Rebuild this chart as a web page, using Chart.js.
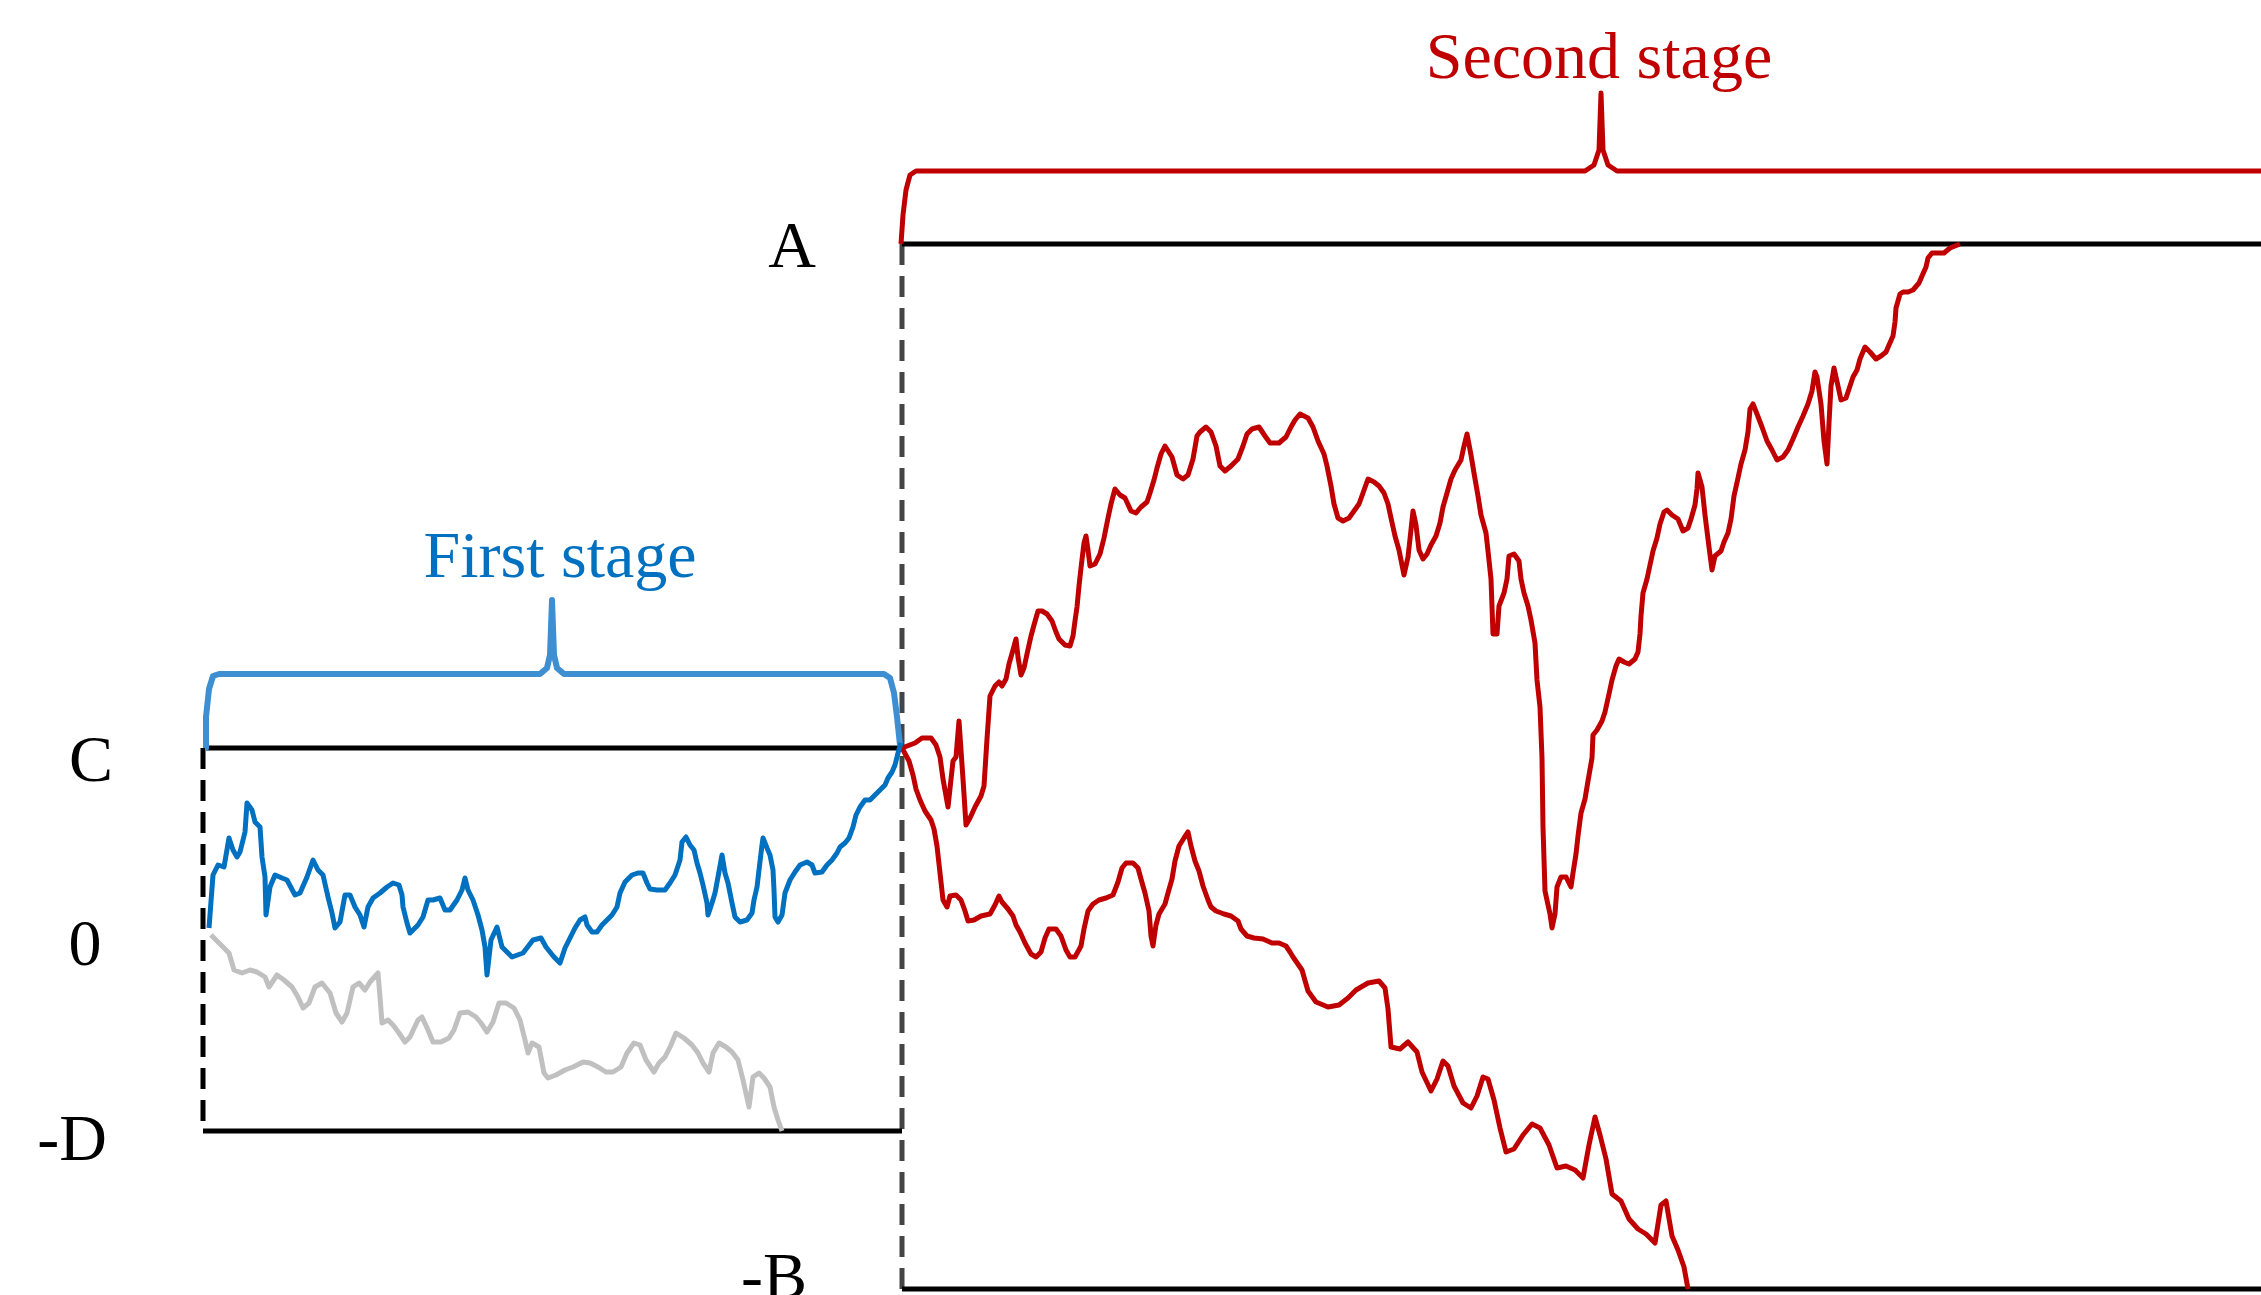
<!DOCTYPE html>
<html lang="en">
<head>
  <meta charset="UTF-8">
  <title>Two stage path</title>
  <script src="https://cdn.jsdelivr.net/npm/chart.js"></script>
  <style>
    html, body {
      margin: 0;
      padding: 0;
      background: #ffffff;
      overflow: hidden;
    }

    .chart-container {
      width: 2261px;
      height: 1295px;
    }
  </style>
</head>
<body>
  <div class="chart-container">
    <canvas id="chart"></canvas>
  </div>

  <script>
    // levels (value above the starting level 0)
    const levelA = 691;
    const levelC = 187;
    const levelZero = 0;
    const levelD = -196;
    const levelB = -354;

    // time marks
    const tStart = 203;
    const tSwitch = 902;
    const tEnd = 2261;

    // first stage, upper path (blue) [t, value]
    const bluePath = [
      [209,7],[213,60],[218,70],[224,68],[229,97],[233,85],[237,78],[240,83],[245,103],[247,132],
      [252,125],[255,113],[260,108],[262,78],[265,58],[266,20],[270,48],[275,60],[282,57],[287,55],
      [295,40],[300,42],[307,58],[313,75],[318,65],[323,60],[328,38],[332,22],[335,7],[340,13],
      [345,40],[350,40],[355,28],[360,20],[364,8],[368,28],[373,37],[380,42],[387,48],[393,52],
      [399,50],[402,40],[403,28],[407,12],[410,2],[413,5],[418,10],[423,18],[428,35],[433,35],
      [440,37],[445,25],[450,25],[457,35],[462,45],[465,57],[468,45],[473,35],[478,20],[482,5],
      [485,-12],[487,-40],[491,-5],[497,8],[502,-12],[512,-22],[523,-18],[533,-5],[541,-3],[546,-12],
      [554,-22],[560,-28],[565,-13],[570,-3],[575,7],[580,15],[585,18],[587,10],[592,3],[597,3],
      [602,10],[607,15],[612,20],[617,28],[620,42],[625,53],[632,60],[638,62],[643,62],[647,52],
      [650,46],[657,45],[665,45],[670,52],[675,60],[680,75],[682,93],[686,98],[690,90],[694,85],
      [697,72],[700,62],[703,50],[707,32],[708,20],[712,32],[715,42],[718,58],[722,80],[725,62],
      [728,52],[732,32],[735,18],[740,13],[747,15],[752,22],[754,35],[757,48],[759,65],[762,90],
      [763,97],[767,87],[770,80],[773,65],[774,45],[775,18],[778,13],[782,20],[785,42],[790,55],
      [795,63],[800,70],[807,73],[812,70],[815,62],[822,63],[827,70],[832,75],[837,82],[840,88],
      [845,92],[849,97],[853,108],[856,120],[860,128],[865,135],[870,135],[875,140],[880,145],[885,150],
      [888,157],[892,163],[895,170],[898,182],[901,192]
    ];

    // first stage, lower path (grey)
    const greyPath = [
      [211,0],[219,-8],[229,-18],[234,-35],[242,-38],[250,-35],[257,-37],[265,-42],[269,-52],[277,-40],
      [284,-45],[292,-52],[298,-62],[303,-73],[309,-68],[315,-52],[322,-48],[330,-58],[336,-78],[342,-87],
      [347,-78],[353,-52],[359,-48],[365,-55],[370,-47],[378,-38],[380,-62],[382,-88],[388,-85],[393,-90],
      [399,-98],[405,-107],[410,-102],[418,-85],[422,-82],[428,-95],[433,-107],[441,-107],[449,-103],[454,-95],
      [460,-78],[468,-77],[476,-82],[481,-88],[487,-97],[493,-87],[499,-68],[506,-68],[514,-73],[520,-85],
      [525,-105],[528,-118],[532,-108],[539,-112],[544,-138],[548,-143],[556,-140],[565,-135],[573,-132],[583,-127],
      [590,-128],[598,-132],[606,-137],[613,-137],[621,-132],[627,-118],[634,-108],[640,-110],[646,-125],[654,-137],
      [659,-128],[665,-122],[671,-110],[676,-98],[684,-103],[692,-110],[698,-118],[703,-128],[709,-137],[713,-118],
      [719,-108],[726,-112],[732,-117],[738,-125],[743,-145],[749,-172],[753,-142],[759,-138],[764,-143],[770,-152],
      [774,-172],[778,-185],[782,-196]
    ];

    // second stage, upper path (red)
    const redUpPath = [
      [902,187],[915,192],[922,197],[931,197],[936,190],[940,178],[943,156],[948,128],[953,174],[956,178],
      [959,214],[963,156],[966,110],[970,117],[975,128],[981,139],[984,149],[987,196],[990,239],[995,249],
      [999,253],[1002,249],[1006,256],[1009,271],[1013,285],[1016,296],[1018,278],[1021,260],[1024,267],[1027,281],
      [1031,299],[1034,310],[1038,324],[1042,324],[1047,321],[1052,314],[1056,303],[1059,296],[1065,290],[1070,289],
      [1073,299],[1075,314],[1077,328],[1079,349],[1081,367],[1084,392],[1086,399],[1088,385],[1090,369],[1095,371],
      [1100,381],[1104,397],[1108,417],[1111,431],[1115,446],[1120,440],[1125,437],[1131,424],[1136,422],[1141,428],
      [1147,433],[1150,442],[1154,455],[1157,467],[1161,481],[1165,489],[1172,478],[1177,460],[1183,456],[1188,460],
      [1193,476],[1197,499],[1200,503],[1206,508],[1211,503],[1216,489],[1220,469],[1225,464],[1231,469],[1238,476],
      [1243,489],[1247,501],[1252,506],[1259,508],[1265,499],[1270,492],[1279,492],[1286,498],[1291,508],[1295,515],
      [1300,521],[1308,517],[1313,508],[1318,494],[1324,481],[1327,469],[1331,449],[1334,431],[1338,417],[1343,414],
      [1349,417],[1354,424],[1359,431],[1363,442],[1368,456],[1374,453],[1379,449],[1384,442],[1388,431],[1391,417],
      [1395,399],[1399,385],[1404,360],[1408,378],[1410,396],[1413,424],[1416,410],[1419,385],[1423,376],[1427,381],
      [1431,390],[1436,399],[1440,412],[1443,428],[1447,442],[1451,456],[1455,465],[1461,475],[1464,489],[1467,501],
      [1471,480],[1474,462],[1478,439],[1481,420],[1486,402],[1488,384],[1491,356],[1493,301],[1497,301],[1499,329],
      [1504,342],[1507,356],[1509,379],[1514,381],[1519,374],[1521,356],[1524,342],[1528,329],[1531,315],[1535,292],
      [1537,255],[1540,228],[1542,177],[1543,108],[1545,44],[1550,21],[1552,7],[1555,21],[1557,48],[1561,58],
      [1566,58],[1571,48],[1573,62],[1576,81],[1578,99],[1581,122],[1585,136],[1588,154],[1592,177],[1593,200],
      [1597,205],[1602,214],[1605,223],[1609,241],[1612,255],[1616,269],[1619,276],[1624,273],[1629,271],[1635,276],
      [1638,283],[1640,301],[1641,319],[1643,342],[1647,356],[1650,370],[1653,384],[1657,397],[1660,411],[1664,423],
      [1667,425],[1672,420],[1678,416],[1683,404],[1688,407],[1691,416],[1695,430],[1697,446],[1698,462],[1702,448],
      [1705,420],[1709,388],[1712,365],[1715,379],[1721,384],[1724,393],[1728,402],[1731,416],[1734,439],[1738,457],
      [1741,471],[1745,485],[1748,503],[1750,526],[1753,531],[1757,521],[1762,508],[1767,494],[1772,485],[1777,475],
      [1783,478],[1788,485],[1793,496],[1798,508],[1803,519],[1808,531],[1812,544],[1815,563],[1817,558],[1821,531],
      [1824,494],[1827,471],[1829,512],[1831,549],[1834,567],[1838,549],[1841,535],[1846,537],[1850,549],[1853,558],
      [1857,565],[1860,576],[1865,588],[1870,583],[1876,576],[1881,579],[1886,583],[1889,590],[1893,599],[1895,613],
      [1896,627],[1900,641],[1903,643],[1908,643],[1913,645],[1919,652],[1922,659],[1926,668],[1928,677],[1932,682],
      [1939,682],[1944,682],[1950,687],[1955,689],[1960,691]
    ];

    // second stage, lower path (red)
    const redDownPath = [
      [902,187],[909,174],[913,160],[916,146],[920,135],[925,124],[931,115],[934,106],[937,89],[939,71],
      [941,53],[943,35],[947,28],[950,39],[956,40],[961,35],[965,24],[968,14],[974,15],[981,19],
      [990,21],[995,30],[999,39],[1002,33],[1008,26],[1013,19],[1016,10],[1020,3],[1025,-8],[1031,-19],
      [1036,-22],[1041,-17],[1045,-3],[1049,6],[1056,6],[1061,-1],[1066,-15],[1070,-22],[1075,-22],[1081,-11],
      [1084,6],[1088,24],[1093,31],[1099,35],[1106,37],[1113,40],[1118,53],[1122,67],[1126,72],[1133,72],
      [1138,67],[1141,56],[1145,42],[1149,24],[1151,-1],[1153,-11],[1156,10],[1159,21],[1165,31],[1168,42],
      [1172,56],[1175,74],[1179,89],[1184,97],[1188,103],[1191,89],[1195,74],[1199,64],[1203,49],[1208,35],
      [1211,28],[1216,24],[1224,21],[1231,19],[1238,14],[1241,6],[1247,-1],[1254,-3],[1263,-4],[1272,-8],
      [1279,-8],[1286,-11],[1290,-17],[1293,-22],[1302,-35],[1308,-56],[1316,-67],[1328,-72],[1339,-70],[1348,-63],
      [1356,-55],[1368,-48],[1379,-46],[1385,-53],[1388,-74],[1391,-112],[1400,-114],[1408,-107],[1417,-117],[1422,-137],
      [1431,-156],[1437,-144],[1443,-126],[1448,-131],[1454,-151],[1463,-168],[1471,-173],[1477,-161],[1483,-142],[1488,-144],
      [1494,-165],[1500,-193],[1506,-217],[1514,-214],[1523,-200],[1532,-189],[1540,-193],[1549,-210],[1557,-233],[1566,-231],
      [1575,-235],[1583,-243],[1589,-210],[1595,-182],[1600,-200],[1606,-224],[1612,-259],[1621,-266],[1629,-284],[1638,-294],
      [1646,-299],[1655,-308],[1661,-270],[1666,-266],[1672,-301],[1678,-315],[1684,-332],[1688,-354]
    ];

    // braces over each stage
    const braceFirst = [
      [205,187],[206,218],[209,246],[213,259],[219,261],[540,261],[547,267],[550,280],[552,335],
      [554,280],[557,267],[564,261],[884,261],[890,257],[894,242],[897,218],[900,190]
    ];
    const braceSecond = [
      [901,691],[903,720],[906,745],[910,760],[916,764],[1585,764],[1594,770],[1599,785],[1601,842],
      [1603,785],[1608,770],[1617,764],[2261,764]
    ];

    // texts
    const stageTitles = ['First stage', 'Second stage'];
    const levelNames = ['A', 'C', '0', '-D', '-B'];

    // text anchors (t, value of the baseline)
    const stageTitleAt = [[560, 358], [1599, 857]];
    const levelNameAt = [[792, 668], [91, 154], [85, -30], [72, -225], [774, -363]];

    function toPoints(path) {
      return path.map(function (p) { return { x: p[0], y: p[1] }; });
    }

    function segment(x1, y1, x2, y2) {
      return [{ x: x1, y: y1 }, { x: x2, y: y2 }];
    }

    function lineSet(data, color, width, dash) {
      return {
        data: data,
        showLine: true,
        borderColor: color,
        borderWidth: width,
        borderDash: dash || [],
        borderJoinStyle: 'round',
        borderCapStyle: 'butt',
        pointRadius: 0,
        pointHoverRadius: 0,
        fill: false,
        tension: 0,
        clip: 20
      };
    }

    var textPlugin = {
      id: 'stageTexts',
      afterDatasetsDraw: function (chart) {
        var ctx = chart.ctx;
        var xs = chart.scales.x;
        var ys = chart.scales.y;
        ctx.save();
        ctx.font = '66px "Liberation Serif", "Times New Roman", serif';
        ctx.textAlign = 'center';
        ctx.textBaseline = 'alphabetic';

        var titleColors = ['#0070c0', '#c00000'];
        stageTitles.forEach(function (t, i) {
          ctx.fillStyle = titleColors[i];
          ctx.fillText(t, xs.getPixelForValue(stageTitleAt[i][0]), ys.getPixelForValue(stageTitleAt[i][1]));
        });

        ctx.fillStyle = '#000000';
        levelNames.forEach(function (t, i) {
          ctx.fillText(t, xs.getPixelForValue(levelNameAt[i][0]), ys.getPixelForValue(levelNameAt[i][1]));
        });
        ctx.restore();
      }
    };

    var datasets = [
      lineSet(toPoints(bluePath), '#0070c0', 5),
      lineSet(toPoints(redUpPath), '#c00000', 5),
      lineSet(toPoints(redDownPath), '#c00000', 5),
      lineSet(toPoints(greyPath), '#c0c0c0', 5),
      lineSet(toPoints(braceFirst), '#3d8fd1', 6),
      lineSet(toPoints(braceSecond), '#c00000', 5),
      // frame lines
      lineSet(segment(tStart, levelC, tSwitch, levelC), '#000000', 5),
      lineSet(segment(tStart, levelD, tSwitch, levelD), '#000000', 5),
      lineSet(segment(tSwitch, levelA, tEnd, levelA), '#000000', 5),
      lineSet(segment(tSwitch, levelB, tEnd, levelB), '#000000', 5),
      lineSet(segment(tStart, levelC, tStart, levelD), '#000000', 5, [21, 11]),
      lineSet(segment(tSwitch, levelA, tSwitch, levelB), '#444444', 5, [21, 11])
    ];

    var chart = new Chart(document.getElementById('chart').getContext('2d'), {
      type: 'scatter',
      data: { datasets: datasets },
      options: {
        responsive: true,
        maintainAspectRatio: false,
        animation: false,
        events: [],
        layout: { padding: 0 },
        plugins: {
          legend: { display: false },
          tooltip: { enabled: false }
        },
        scales: {
          x: { type: 'linear', min: 0, max: tEnd, display: false },
          y: { type: 'linear', min: -360, max: 935, display: false }
        }
      },
      plugins: [textPlugin]
    });
  </script>
</body>
</html>
